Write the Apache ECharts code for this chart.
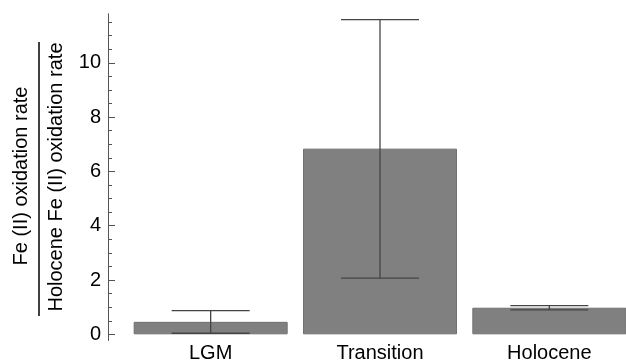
<!DOCTYPE html>
<html>
<head>
<meta charset="utf-8">
<script src="https://cdn.jsdelivr.net/npm/echarts@6/dist/echarts.min.js"></script>
<style>html,body{margin:0;padding:0;background:#fff;}#c{width:626px;height:360px;}</style>
</head>
<body>
<div id="c"></div>
<script>
const categories = ['LGM', 'Transition', 'Holocene'];
const barValues = [0.46, 6.84, 0.98];
const errLow = [0.04, 2.07, 0.90];
const errHigh = [0.87, 11.59, 1.06];
const majorTicks = [0, 2, 4, 6, 8, 10];
const minorTicks = [0, 0.5, 1, 1.5, 2, 2.5, 3, 3.5, 4, 4.5, 5, 5.5, 6, 6.5, 7, 7.5, 8, 8.5, 9, 9.5, 10, 10.5, 11, 11.5];

const FONT = 'Liberation Sans, Arial, sans-serif';
const chart = echarts.init(document.getElementById('c'), null, {renderer: 'canvas'});
const yBase = {
  type: 'value', min: -0.22, max: 11.8, position: 'left', offset: 18,
  splitLine: {show: false},
  axisLine: {show: true, lineStyle: {color: '#555', width: 1}}
};
chart.setOption({
  animation: false,
  grid: {left: 126, right: -8, top: 14, bottom: 19.7, containLabel: false, outerBoundsMode: 'none'},
  xAxis: {
    type: 'category', data: categories,
    axisLine: {show: false}, axisTick: {show: false},
    axisLabel: {color: '#000', fontSize: 20, fontFamily: FONT, margin: 3}
  },
  yAxis: [
    Object.assign({}, yBase, {
      axisTick: {show: true, inside: true, length: 4, customValues: minorTicks, lineStyle: {color: '#555'}},
      axisLabel: {show: false}
    }),
    Object.assign({}, yBase, {
      axisTick: {show: true, inside: true, length: 7, customValues: majorTicks, lineStyle: {color: '#555'}},
      axisLabel: {show: true, customValues: majorTicks, color: '#000', fontSize: 20, fontFamily: FONT, margin: 7}
    })
  ],
  series: [
    {
      type: 'bar', data: barValues, barWidth: 154, yAxisIndex: 0,
      itemStyle: {color: '#808080', borderColor: '#707070', borderWidth: 1}
    },
    {
      type: 'custom', yAxisIndex: 0, z: 5,
      data: categories.map((c, i) => [i, errLow[i], errHigh[i]]),
      renderItem: function (params, api) {
        const lo = api.coord([api.value(0), api.value(1)]);
        const hi = api.coord([api.value(0), api.value(2)]);
        const hw = 39;
        const st = {stroke: '#444', lineWidth: 1.3};
        return {type: 'group', children: [
          {type: 'line', shape: {x1: hi[0], y1: hi[1], x2: lo[0], y2: lo[1]}, style: st},
          {type: 'line', shape: {x1: hi[0] - hw, y1: hi[1], x2: hi[0] + hw, y2: hi[1]}, style: st},
          {type: 'line', shape: {x1: lo[0] - hw, y1: lo[1], x2: lo[0] + hw, y2: lo[1]}, style: st}
        ]};
      }
    }
  ],
  graphic: [
    {type: 'text', x: 21.5, y: 176, rotation: Math.PI / 2,
     style: {text: 'Fe (II) oxidation rate', font: '20px ' + FONT, fill: '#000', align: 'center', verticalAlign: 'middle'}},
    {type: 'text', x: 56.5, y: 177, rotation: Math.PI / 2,
     style: {text: 'Holocene Fe (II) oxidation rate', font: '20px ' + FONT, fill: '#000', align: 'center', verticalAlign: 'middle'}},
    {type: 'line', shape: {x1: 39, y1: 42, x2: 39, y2: 316}, style: {stroke: '#000', lineWidth: 1.5}}
  ]
});
</script>
</body>
</html>
